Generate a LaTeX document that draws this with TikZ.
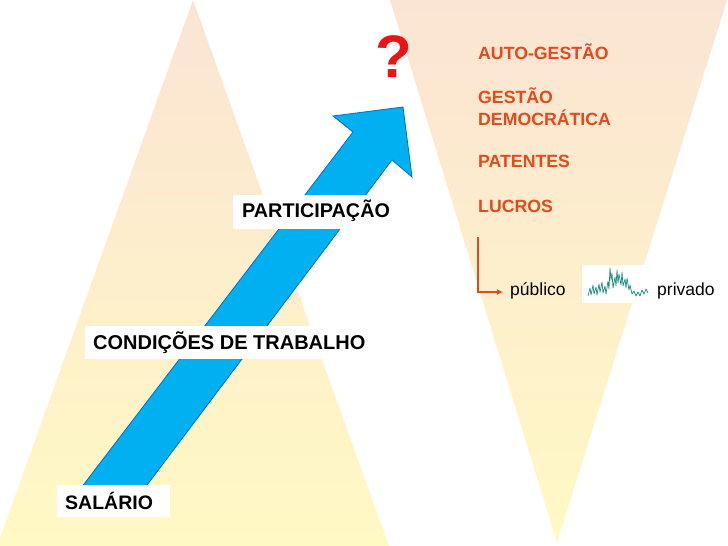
\documentclass[tikz,border=0pt]{standalone}
\usepackage{fontspec}
\setmainfont{Liberation Sans}
\usetikzlibrary{arrows.meta}
\definecolor{peach}{RGB}{251,228,212}
\definecolor{paleyellow}{RGB}{255,249,196}
\definecolor{arrowblue}{RGB}{0,176,240}
\definecolor{arrowedge}{RGB}{0,112,192}
\definecolor{orangered}{RGB}{228,74,28}
\definecolor{qred}{RGB}{235,20,20}
\definecolor{sparkteal}{RGB}{30,140,130}
\tikzset{
  stagebox/.style={fill=white, inner ysep=0pt, inner xsep=8pt, anchor=north west},
  rightlabel/.style={anchor=base west, inner sep=0pt, text=orangered, align=left, font=\bfseries\fontsize{17.7}{22}\selectfont},
  plainlabel/.style={anchor=base west, inner sep=0pt, font=\fontsize{17.5}{20}\selectfont}
}
\begin{document}
\begin{tikzpicture}[x=1pt,y=-1pt]
\useasboundingbox (0,0) rectangle (728,546);
\clip (0,0) rectangle (728,546);
% left pyramid
\shade[top color=peach, bottom color=paleyellow] (193,0) -- (389,546) -- (-3,546) -- cycle;
% right inverted pyramid
\shade[top color=peach, bottom color=paleyellow] (390,0) -- (727,0) -- (557,543) -- cycle;
% blue arrow
\draw[fill=arrowblue, draw=arrowedge, line width=0.8pt, line join=miter]
  (68,505) -- (353,132) -- (333,116) -- (403,107) -- (412,177) -- (392,160) -- (132,505) -- cycle;
% stage labels
\node (sal) [stagebox, text width=97pt, align=left, text height=24pt, text depth=8pt, font=\bfseries\fontsize{19.5}{22}\selectfont] at (57,485) {SALÁRIO};
\node (cond) [stagebox, text height=23pt, text depth=10pt, font=\bfseries\fontsize{20}{22}\selectfont] at (85,326) {CONDIÇÕES DE TRABALHO};
\node (part) [stagebox, inner xsep=9pt, text height=22pt, text depth=12pt, font=\bfseries\fontsize{19.8}{22}\selectfont] at (233,195) {PARTICIPAÇÃO};
% question mark
\node (q) [anchor=base west, inner sep=0pt, text=qred, font=\bfseries\fontsize{60}{60}\selectfont] at (375,77) {?};
% right labels
\node (auto) [rightlabel] at (478,59) {AUTO-GESTÃO};
\node (gest) [rightlabel] at (478,103) {GESTÃO};
\node (demo) [rightlabel] at (478,125) {DEMOCRÁTICA};
\node (pat) [rightlabel] at (478,167) {PATENTES};
\node (luc) [rightlabel] at (478,212) {LUCROS};
% public / private
\coordinate (ltop) at (478,237);
\coordinate (lcorner) at (478,292);
\node (pub) [plainlabel] at (510,295) {público};
\node (priv) [plainlabel] at (657,295) {privado};
\draw[orangered, line width=1.6pt, -{Latex[length=6pt,width=6pt]}] (ltop) -- (lcorner) -- (503,292);
% sparkline picture
\node (spark) [fill=white, inner sep=0pt, minimum width=69pt, minimum height=38pt, anchor=north west] at (582,265) {};
\draw[sparkteal, line width=0.7pt, line join=round]
 (588,296) -- (590,288) -- (591,295) -- (593,285) -- (594,294) -- (596,287) -- (597,295) -- (599,284) -- (600,292) -- (602,282) -- (603,293) -- (605,286) -- (606,294) -- (608,281) -- (609,289) -- (610,268) -- (611,280) -- (612,273) -- (613,288) -- (615,277) -- (616,286) -- (617,270) -- (618,283) -- (619,274) -- (621,285) -- (622,272) -- (623,286) -- (625,279) -- (626,288) -- (627,278) -- (629,290) -- (630,285) -- (632,294) -- (634,291) -- (636,296) -- (638,292) -- (640,296) -- (642,290) -- (644,294) -- (646,289) -- (648,293);
\end{tikzpicture}
\end{document}
